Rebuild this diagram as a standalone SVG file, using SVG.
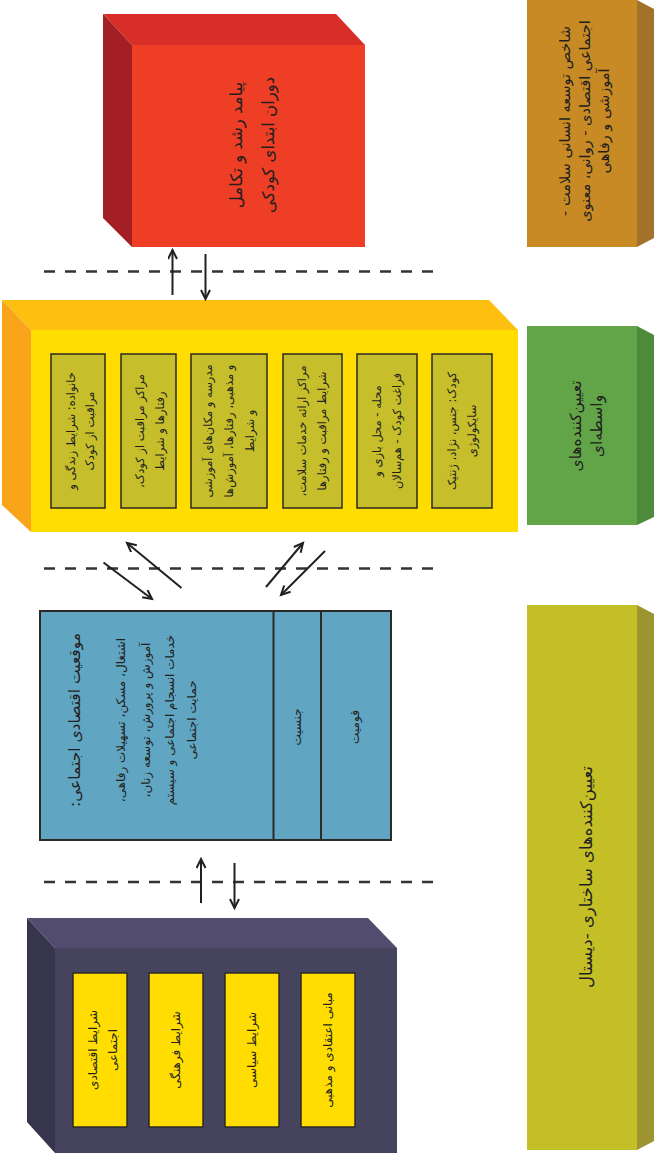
<svg xmlns="http://www.w3.org/2000/svg" width="654" height="1153" viewBox="0 0 654 1153">
<defs>
<marker id="ah" markerUnits="userSpaceOnUse" markerWidth="14" markerHeight="14" refX="10" refY="5" orient="auto">
<path d="M1,0.5 L10,5 L1,9.5" fill="none" stroke="#231F20" stroke-width="2"/>
</marker>
<style>
.t{font-family:"DejaVu Sans","Noto Sans",sans-serif;fill:#231F20;direction:rtl;text-anchor:middle;dominant-baseline:central}
.ib{fill:#C6BF2B;stroke:#2B2A26;stroke-width:1.5}
.yb{fill:#FFDD00;stroke:#2B2A26;stroke-width:1.5}
.dash{stroke:#333;stroke-width:2.5;stroke-dasharray:11 10;fill:none}
.ar{stroke:#231F20;stroke-width:2;fill:none;marker-end:url(#ah)}
.s11{font-size:11.5px}
.s12{font-size:12px}
</style>
</defs>
<rect width="654" height="1153" fill="#FFFFFF"/>

<g id="outcome">
<polygon points="103,14 336,14 365,45 132,45" fill="#D72F27"/>
<polygon points="103,14 132,45 132,247 103,218" fill="#A41F23"/>
<rect x="132" y="45" width="233" height="202" fill="#EE3E25"/>
<text class="t" font-size="16.5" transform="translate(236,145) rotate(-90)">پیامد رشد و تکامل</text>
<text class="t" font-size="16.5" transform="translate(268,145) rotate(-90)">دوران ابتدای کودکی</text>
</g>

<g id="bar-index">
<polygon points="637,0 656,10 656,237 637,247" fill="#A2712A"/>
<rect x="527" y="0" width="110" height="247" fill="#C88A25"/>
<text class="t" font-size="14.5" transform="translate(565,121) rotate(-90)">شاخص توسعه انسانی سلامت -</text>
<text class="t" font-size="14.5" transform="translate(585,121) rotate(-90)">اجتماعی اقتصادی - روانی، معنوی</text>
<text class="t" font-size="14.5" transform="translate(604,121) rotate(-90)">آموزشی و رفاهی</text>
</g>

<g id="bar-intermediate">
<polygon points="637,326 656,336 656,516 637,525" fill="#4E893C"/>
<rect x="527" y="326" width="110" height="199" fill="#62A548"/>
<text class="t" font-size="15.5" transform="translate(576,426) rotate(-90)">تعیین‌کننده‌های</text>
<text class="t" font-size="15.5" transform="translate(597,426) rotate(-90)">واسطه‌ای</text>
</g>

<g id="bar-structural">
<polygon points="637,605 656,615 656,1140 637,1150" fill="#9C9431"/>
<rect x="527" y="605" width="110" height="545" fill="#C5BF27"/>
<text class="t" font-size="16.5" transform="translate(586,877) rotate(-90)">تعیین‌کننده‌های ساختاری -دیستال</text>
</g>

<g id="intermediate">
<polygon points="2,300 489,300 518,330 31,330" fill="#FDC010"/>
<polygon points="2,300 31,330 31,532 2,505" fill="#F9A51B"/>
<rect x="31" y="330" width="487" height="202" fill="#FFDD00"/>
<g id="im-family">
<rect class="ib" x="51" y="354" width="54" height="154"/>
<text class="t s11" transform="translate(71,431) rotate(-90)">خانواده: شرایط زندگی و</text>
<text class="t s11" transform="translate(90,431) rotate(-90)">مراقبت از کودک</text>
</g>
<g id="im-daycare">
<rect class="ib" x="121" y="354" width="55" height="154"/>
<text class="t s11" transform="translate(140,431) rotate(-90)">مراکز مراقبت از کودک،</text>
<text class="t s11" transform="translate(160,431) rotate(-90)">رفتارها و شرایط</text>
</g>
<g id="im-school">
<rect class="ib" x="191" y="354" width="76" height="154"/>
<text class="t s11" transform="translate(208,431) rotate(-90)">مدرسه و مکان‌های آموزشی</text>
<text class="t s11" transform="translate(229,431) rotate(-90)">و مذهبی، رفتارها، آموزش‌ها</text>
<text class="t s11" transform="translate(250,431) rotate(-90)">و شرایط</text>
</g>
<g id="im-health">
<rect class="ib" x="283" y="354" width="59" height="154"/>
<text class="t s11" transform="translate(302,431) rotate(-90)">مراکز ارائه خدمات سلامت،</text>
<text class="t s11" transform="translate(322,431) rotate(-90)">شرایط مراقبت و رفتارها</text>
</g>
<g id="im-neighborhood">
<rect class="ib" x="357" y="354" width="60" height="154"/>
<text class="t s11" transform="translate(377,431) rotate(-90)">محله - محل بازی و</text>
<text class="t s11" transform="translate(397,431) rotate(-90)">فراغت کودک - هم‌سالان</text>
</g>
<g id="im-child">
<rect class="ib" x="432" y="354" width="60" height="154"/>
<text class="t s11" transform="translate(452,431) rotate(-90)">کودک: جنس، نژاد، ژنتیک</text>
<text class="t s11" transform="translate(472,431) rotate(-90)">سایکولوژی</text>
</g>
</g>

<g id="socioeconomic">
<rect x="40" y="611" width="351" height="229" fill="#60A5C2" stroke="#2B2A26" stroke-width="2"/>
<line x1="273.5" y1="611" x2="273.5" y2="840" stroke="#2B2A26" stroke-width="2"/>
<line x1="321" y1="611" x2="321" y2="840" stroke="#2B2A26" stroke-width="2"/>
<text class="t" font-size="15.5" transform="translate(75,720) rotate(-90)">موقعیت اقتصادی اجتماعی:</text>
<text class="t s12" transform="translate(121,720) rotate(-90)">اشتغال، مسکن، تسهیلات رفاهی،</text>
<text class="t s12" transform="translate(146,720) rotate(-90)">آموزش و پرورش، توسعه زنان،</text>
<text class="t s12" transform="translate(170,720) rotate(-90)">خدمات انسجام اجتماعی و سیستم</text>
<text class="t s12" transform="translate(192,720) rotate(-90)">حمایت اجتماعی</text>
<text class="t s12" transform="translate(297,727) rotate(-90)">جنسیت</text>
<text class="t s12" transform="translate(355,727) rotate(-90)">قومیت</text>
</g>

<g id="context">
<polygon points="27,918 368,918 397,948 55,948" fill="#524D6E"/>
<polygon points="27,918 55,948 55,1153 27,1122" fill="#36354C"/>
<rect x="55" y="948" width="342" height="205" fill="#46435F"/>
<g id="ctx-economic">
<rect class="yb" x="73" y="973" width="54" height="154"/>
<text class="t s12" transform="translate(93,1050) rotate(-90)">شرایط اقتصادی</text>
<text class="t s12" transform="translate(113,1050) rotate(-90)">اجتماعی</text>
</g>
<g id="ctx-cultural">
<rect class="yb" x="149" y="973" width="54" height="154"/>
<text class="t s12" transform="translate(176,1050) rotate(-90)">شرایط فرهنگی</text>
</g>
<g id="ctx-political">
<rect class="yb" x="225" y="973" width="54" height="154"/>
<text class="t s12" transform="translate(252,1050) rotate(-90)">شرایط سیاسی</text>
</g>
<g id="ctx-religious">
<rect class="yb" x="301" y="973" width="54" height="154"/>
<text class="t s12" transform="translate(328,1050) rotate(-90)">مبانی اعتقادی و مذهبی</text>
</g>
</g>

<g id="connectors">
<line class="dash" x1="44" y1="271.5" x2="440" y2="271.5"/>
<line class="dash" x1="44" y1="568.5" x2="440" y2="568.5"/>
<line class="dash" x1="44" y1="882" x2="440" y2="882"/>
<line class="ar" x1="172.5" y1="295" x2="172.5" y2="250"/>
<line class="ar" x1="205.5" y1="254" x2="205.5" y2="299"/>
<line class="ar" x1="181.5" y1="588" x2="127" y2="543"/>
<line class="ar" x1="103.5" y1="562.5" x2="152" y2="599"/>
<line class="ar" x1="266" y1="587" x2="303" y2="543"/>
<line class="ar" x1="325" y1="551" x2="281" y2="595"/>
<line class="ar" x1="201" y1="903" x2="201" y2="859"/>
<line class="ar" x1="234.5" y1="863" x2="234.5" y2="908"/>
</g>
</svg>
